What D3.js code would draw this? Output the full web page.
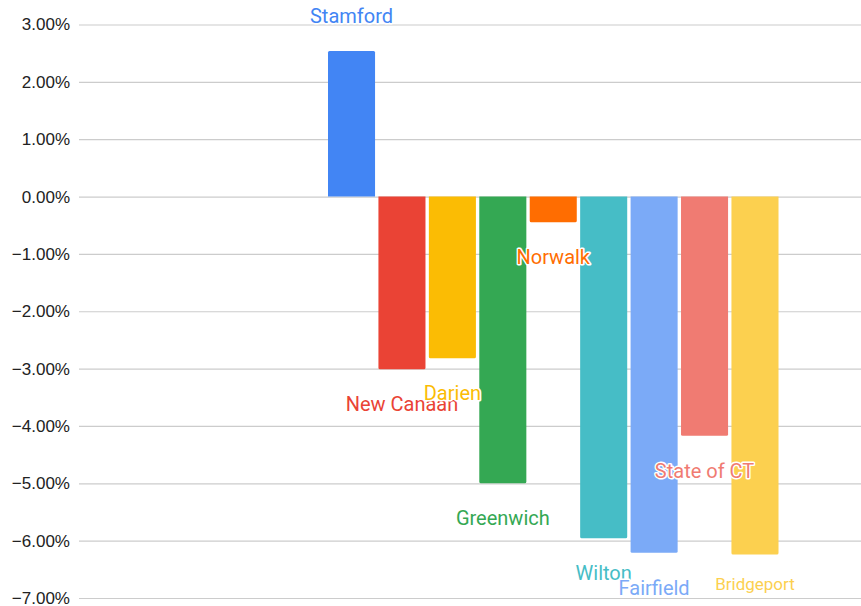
<!DOCTYPE html>
<html>
<head>
<meta charset="utf-8">
<script src="https://cdn.jsdelivr.net/npm/d3@7"></script>
<style>
  html, body { margin: 0; padding: 0; background: #fff; }
  svg { display: block; }
</style>
</head>
<body>
<svg id="chart" width="861" height="606"></svg>
<script>
// Percent change by town
const towns = ["Stamford", "New Canaan", "Darien", "Greenwich", "Norwalk", "Wilton", "Fairfield", "State of CT", "Bridgeport"];
const changes = [2.54, -3.01, -2.82, -5.0, -0.45, -5.96, -6.21, -4.17, -6.24];
const colors = ["#4285F4", "#EA4335", "#FBBC04", "#34A853", "#FF6D01", "#46BDC6", "#7BAAF7", "#F07B72", "#FCD04F"];
const yTicks = [3, 2, 1, 0, -1, -2, -3, -4, -5, -6, -7];

const data = towns.map((name, i) => ({ name, value: changes[i], color: colors[i] }));

const svg = d3.select("#chart");
const plotLeft = 79, plotRight = 861;

const y = d3.scaleLinear().domain([-7, 3]).range([598, 24.5]);
const x = d3.scaleBand().domain(towns).range([328, 778.5]).paddingInner(0.067).paddingOuter(0);

// gridlines + tick labels
const yAxis = d3.axisLeft(y)
  .tickValues(yTicks)
  .tickSize(-(plotRight - plotLeft))
  .tickPadding(9)
  .tickFormat(d => d3.format(".2f")(d) + "%");

const gAxis = svg.append("g")
  .attr("transform", `translate(${plotLeft},0)`)
  .call(yAxis);
gAxis.select(".domain").remove();
gAxis.selectAll(".tick line").attr("stroke", "#cccccc").attr("stroke-width", 1.2);
gAxis.selectAll(".tick text")
  .attr("fill", "#222")
  .style("font-family", "Arial, 'Liberation Sans', sans-serif")
  .style("font-size", "17px");

// bars
const r = 1.5;
svg.append("g").selectAll("path")
  .data(data)
  .join("path")
  .attr("fill", d => d.color)
  .attr("d", d => {
    const x0 = x(d.name), w = x.bandwidth();
    const y0 = y(0), y1 = y(d.value);
    const top = Math.min(y0, y1), h = Math.abs(y1 - y0);
    const p = d3.path();
    if (d.value >= 0) {
      p.moveTo(x0, top + h);
      p.lineTo(x0, top + r);
      p.quadraticCurveTo(x0, top, x0 + r, top);
      p.lineTo(x0 + w - r, top);
      p.quadraticCurveTo(x0 + w, top, x0 + w, top + r);
      p.lineTo(x0 + w, top + h);
    } else {
      p.moveTo(x0, top);
      p.lineTo(x0, top + h - r);
      p.quadraticCurveTo(x0, top + h, x0 + r, top + h);
      p.lineTo(x0 + w - r, top + h);
      p.quadraticCurveTo(x0 + w, top + h, x0 + w, top + h - r);
      p.lineTo(x0 + w, top);
    }
    p.closePath();
    return p.toString();
  });

// town labels beyond bar ends
const labelSize = d => d.name === "Bridgeport" ? 17 : 20;
const labelGap = d => d.name === "Bridgeport" ? 30 : 35;
svg.append("g").selectAll("text")
  .data(data)
  .join("text")
  .attr("x", d => x(d.name) + x.bandwidth() / 2)
  .attr("y", d => y(d.value) + (d.value >= 0 ? -labelGap(d) : labelGap(d)))
  .attr("text-anchor", "middle")
  .attr("dominant-baseline", "central")
  .attr("fill", d => d.color)
  .attr("stroke", "#fff")
  .attr("stroke-width", 3)
  .attr("stroke-linejoin", "round")
  .attr("paint-order", "stroke")
  .style("font-family", "Roboto, sans-serif")
  .style("font-size", d => labelSize(d) + "px")
  .text(d => d.name);
</script>
</body>
</html>
